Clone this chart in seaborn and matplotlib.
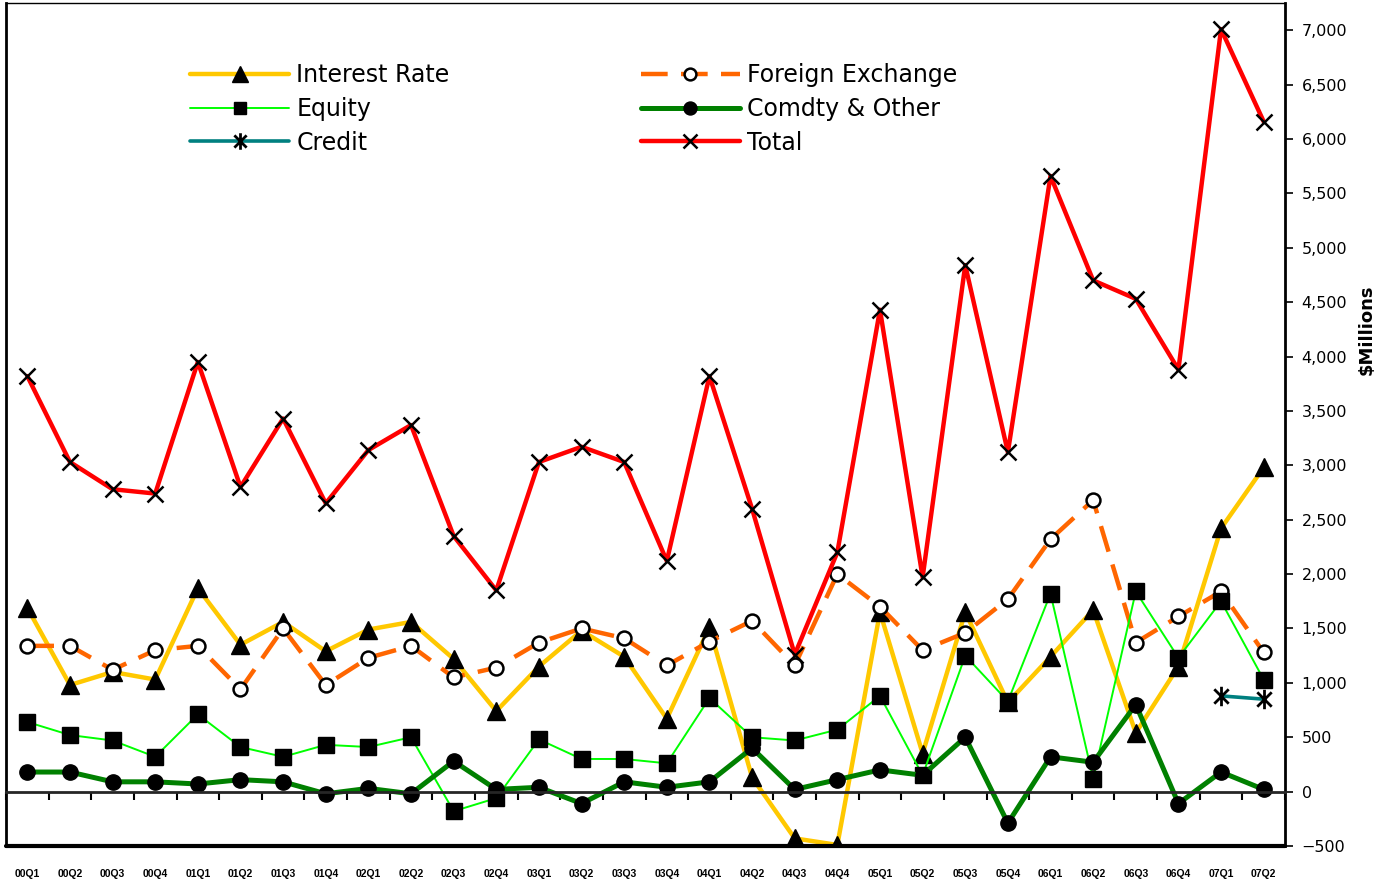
import numpy as np
import pandas as pd
import matplotlib
matplotlib.use("Agg")
import matplotlib.pyplot as plt
import matplotlib.ticker as mtick
from matplotlib.path import Path
import seaborn as sns

# quarters
quarters = ["00Q1", "00Q2", "00Q3", "00Q4", "01Q1", "01Q2", "01Q3", "01Q4",
            "02Q1", "02Q2", "02Q3", "02Q4", "03Q1", "03Q2", "03Q3", "03Q4",
            "04Q1", "04Q2", "04Q3", "04Q4", "05Q1", "05Q2", "05Q3", "05Q4",
            "06Q1", "06Q2", "06Q3", "06Q4", "07Q1", "07Q2"]

# $ millions
interest_rate = [1690, 980, 1100, 1030, 1870, 1350, 1560, 1290, 1490, 1560,
                 1220, 740, 1150, 1480, 1240, 670, 1510, 130, -430, -490,
                 1650, 350, 1650, 820, 1240, 1670, 540, 1150, 2420, 2980]
foreign_exchange = [1340, 1340, 1120, 1300, 1340, 940, 1500, 980, 1230, 1340,
                    1050, 1140, 1370, 1500, 1410, 1160, 1380, 1570, 1160, 2000,
                    1700, 1300, 1460, 1770, 2320, 2680, 1370, 1610, 1840, 1280]
equity = [640, 520, 470, 320, 710, 410, 320, 430, 410, 500,
          -180, -60, 480, 300, 300, 260, 860, 500, 470, 570,
          880, 150, 1250, 830, 1820, 120, 1840, 1230, 1750, 1030]
comdty = [180, 180, 90, 90, 70, 110, 90, -20, 30, -20,
          280, 20, 40, -110, 90, 40, 90, 400, 20, 110,
          200, 150, 500, -290, 320, 270, 800, -110, 180, 20]
credit = [np.nan] * 28 + [880, 850]
total = [3820, 3030, 2780, 2740, 3950, 2800, 3430, 2650, 3140, 3370,
         2350, 1850, 3030, 3170, 3030, 2120, 3820, 2600, 1260, 2200,
         4430, 1970, 4840, 3120, 5660, 4700, 4530, 3880, 7010, 6160]

df = pd.DataFrame({
    "quarter": quarters,
    "Interest Rate": interest_rate,
    "Foreign Exchange": foreign_exchange,
    "Equity": equity,
    "Comdty & Other": comdty,
    "Credit": credit,
    "Total": total,
})

sns.set_style("white")
plt.rcParams["font.family"] = ["DejaVu Sans"]
plt.rcParams["text.color"] = "k"
plt.rcParams["axes.labelcolor"] = "k"
plt.rcParams["xtick.color"] = "k"
plt.rcParams["ytick.color"] = "k"

fig = plt.figure(figsize=(13.82, 8.82), dpi=100)
ax = fig.add_axes([6 / 1382, 1 - 846 / 882, 1279 / 1382, 843 / 882])

# asterisk-like marker for credit
star = Path([(-1, -1), (1, 1), (-1, 1), (1, -1), (0, -1.35), (0, 1.35)],
            [Path.MOVETO, Path.LINETO, Path.MOVETO, Path.LINETO, Path.MOVETO, Path.LINETO])

styles = {
    "Interest Rate": dict(color="#FFC800", lw=3.2, marker="^", ms=13, mfc="k", mec="k", mew=1),
    "Foreign Exchange": dict(color="#FF6600", lw=3.2, ls=(0, (6, 3)), marker="o", ms=10,
                             mfc="white", mec="k", mew=1.8),
    "Equity": dict(color="#00FF00", lw=1.4, marker="s", ms=11, mfc="k", mec="k", mew=1),
    "Comdty & Other": dict(color="#008000", lw=3.6, marker="o", ms=11, mfc="k", mec="k", mew=1),
    "Credit": dict(color="#008080", lw=2.6, marker=star, ms=14, mfc="none", mec="k", mew=2),
    "Total": dict(color="#FF0000", lw=3.2, marker="x", ms=12, mfc="none", mec="k", mew=1.8),
}

handles = {}
for name, kw in styles.items():
    n_before = len(ax.lines)
    sns.lineplot(data=df, x="quarter", y=name, ax=ax, sort=False, errorbar=None,
                 legend=False, label=name, **kw)
    handles[name] = ax.lines[n_before]

ax.set_xlim(-0.5, len(quarters) - 0.5)
ax.set_ylim(-500, 7250)

# y axis on the right
ax.yaxis.tick_right()
ax.yaxis.set_label_position("right")
ax.yaxis.set_major_locator(mtick.MultipleLocator(500))
ax.yaxis.set_major_formatter(mtick.StrMethodFormatter("{x:,.0f}"))
ax.tick_params(axis="y", which="major", direction="out", length=6, width=1.2,
               labelsize=11.5, pad=6, right=True, left=False)
ax.set_ylabel("$Millions", fontsize=13, fontweight="bold", rotation=90)
ax.yaxis.set_label_coords(1.057, 0.612)

# x axis sits on zero, labels pushed to the bottom
ax.spines["bottom"].set_position(("data", 0))
ax.spines["bottom"].set_linewidth(2)
ax.set_xticks(np.arange(len(quarters)))
ax.set_xticklabels(quarters)
ax.set_xticks(np.arange(len(quarters) + 1) - 0.5, minor=True)
ax.tick_params(axis="x", which="major", length=0, pad=56, labelsize=7.5)
ax.tick_params(axis="x", which="minor", direction="out", length=6, width=1.5, bottom=True)
for lbl in ax.get_xticklabels():
    lbl.set_fontfamily(["Liberation Sans", "DejaVu Sans"])
    lbl.set_fontweight("bold")
ax.set_xlabel("")
ax.axhline(-500, color="k", lw=3, zorder=5, clip_on=False)

for side in ["left", "right"]:
    ax.spines[side].set_color("k")
    ax.spines[side].set_linewidth(2)
ax.spines["top"].set_color("k")
ax.spines["top"].set_linewidth(1)

order = ["Interest Rate", "Equity", "Credit", "Foreign Exchange", "Comdty & Other", "Total"]
ax.legend([handles[k] for k in order], order, ncol=2, loc="upper left",
          bbox_to_anchor=(0.1439, 0.929), frameon=False, borderpad=0, borderaxespad=0,
          handlelength=4.2, handletextpad=0.3, columnspacing=8.1, labelspacing=0.42,
          markerscale=0.85, prop={"size": 17})

fig.savefig("out.png", dpi=100)
